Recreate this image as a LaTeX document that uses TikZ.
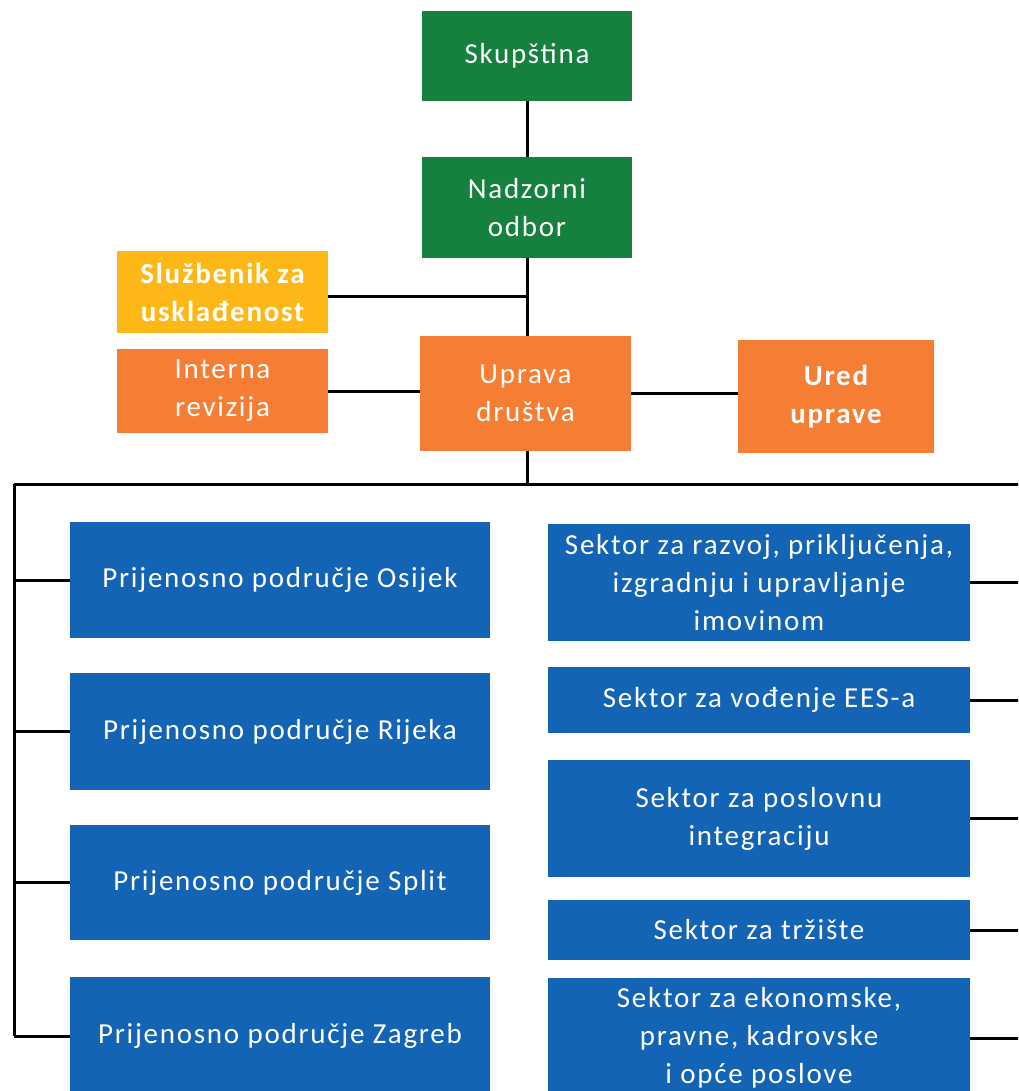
\documentclass[tikz,border=0pt]{standalone}
\usepackage{fontspec}
\setmainfont{Carlito}
\newfontfamily\boxfont[LetterSpace=6]{Carlito}
\definecolor{cgreen}{RGB}{22,128,62}
\definecolor{corange}{RGB}{246,125,52}
\definecolor{cyellow}{RGB}{253,184,24}
\definecolor{cblue}{RGB}{20,100,182}
\begin{document}
\begin{tikzpicture}[x=1pt,y=-1pt,
  box/.style={draw=none,inner sep=0pt,align=center,text=white,
    font=\boxfont\fontsize{29}{38}\selectfont},
  boldbox/.style={box,font=\boxfont\fontsize{29}{38}\selectfont\bfseries},
  conn/.style={line width=3pt,black}]
\useasboundingbox (0,0) rectangle (1018,1091);
\clip (0,0) rectangle (1018,1091);
% boxes
\node[box,fill=cgreen,minimum width=210pt,minimum height=90pt] (skup) at (527,56) {Skupština};
\node[box,fill=cgreen,minimum width=210pt,minimum height=101pt] (nadz) at (527,207.5) {Nadzorni\\odbor};
\node[boldbox,fill=cyellow,minimum width=211pt,minimum height=82pt] (sluz) at (222.5,292) {Službenik za\\usklađenost};
\node[box,fill=corange,minimum width=211pt,minimum height=84pt] (intr) at (222.5,391) {Interna\\revizija};
\node[box,fill=corange,minimum width=211pt,minimum height=115pt] (upr) at (525.5,393.5) {Uprava\\društva};
\node[boldbox,fill=corange,minimum width=196pt,minimum height=113pt] (ured) at (836,396.5) {Ured\\uprave};
% left blue
\node[box,fill=cblue,minimum width=420pt,minimum height=116pt] (osi) at (280,580) {Prijenosno područje Osijek};
\node[box,fill=cblue,minimum width=420pt,minimum height=117pt] (rij) at (280,731.5) {Prijenosno područje Rijeka};
\node[box,fill=cblue,minimum width=420pt,minimum height=115pt] (spl) at (280,882.5) {Prijenosno područje Split};
\node[box,fill=cblue,minimum width=420pt,minimum height=118pt] (zag) at (280,1036) {Prijenosno područje Zagreb};
% right blue
\node[box,fill=cblue,minimum width=422pt,minimum height=117pt] (raz) at (759,582.5) {Sektor za razvoj, priključenja,\\izgradnju i upravljanje\\imovinom};
\node[box,fill=cblue,minimum width=422pt,minimum height=66pt] (ees) at (759,700) {Sektor za vođenje EES-a};
\node[box,fill=cblue,minimum width=422pt,minimum height=117pt] (pos) at (759,818.5) {Sektor za poslovnu\\integraciju};
\node[box,fill=cblue,minimum width=422pt,minimum height=60pt] (trz) at (759,930) {Sektor za tržište};
\node[box,fill=cblue,minimum width=422pt,minimum height=120pt] (eko) at (759,1038) {Sektor za ekonomske,\\pravne, kadrovske\\i opće poslove};
% coordinates
\coordinate (j1) at (527,296);
\coordinate (bus) at (527,484);
\coordinate (bl) at (14,484);
\coordinate (br) at (1030,484);
% connectors
\draw[conn] (skup.south) -- (nadz.north);
\draw[conn] (nadz.south) -- (upr.north -| nadz.south);
\draw[conn] (sluz.east |- j1) -- (j1);
\draw[conn] (intr.east) -- (intr.east -| upr.west);
\draw[conn] (upr.east) -- (upr.east -| ured.west);
\draw[conn] (upr.south -| nadz.south) -- (bus);
\draw[conn] (bl) -- (br);
\draw[conn] (bl) -- (bl |- zag.west);
\draw[conn] (bl |- osi.west) -- (osi.west);
\draw[conn] (bl |- rij.west) -- (rij.west);
\draw[conn] (bl |- spl.west) -- (spl.west);
\draw[conn] (bl |- zag.west) -- (zag.west);
\draw[conn] (raz.east) -- (raz.east -| br);
\draw[conn] (ees.east) -- (ees.east -| br);
\draw[conn] (pos.east) -- (pos.east -| br);
\draw[conn] (trz.east) -- (trz.east -| br);
\draw[conn] (eko.east) -- (eko.east -| br);
\end{tikzpicture}
\end{document}
